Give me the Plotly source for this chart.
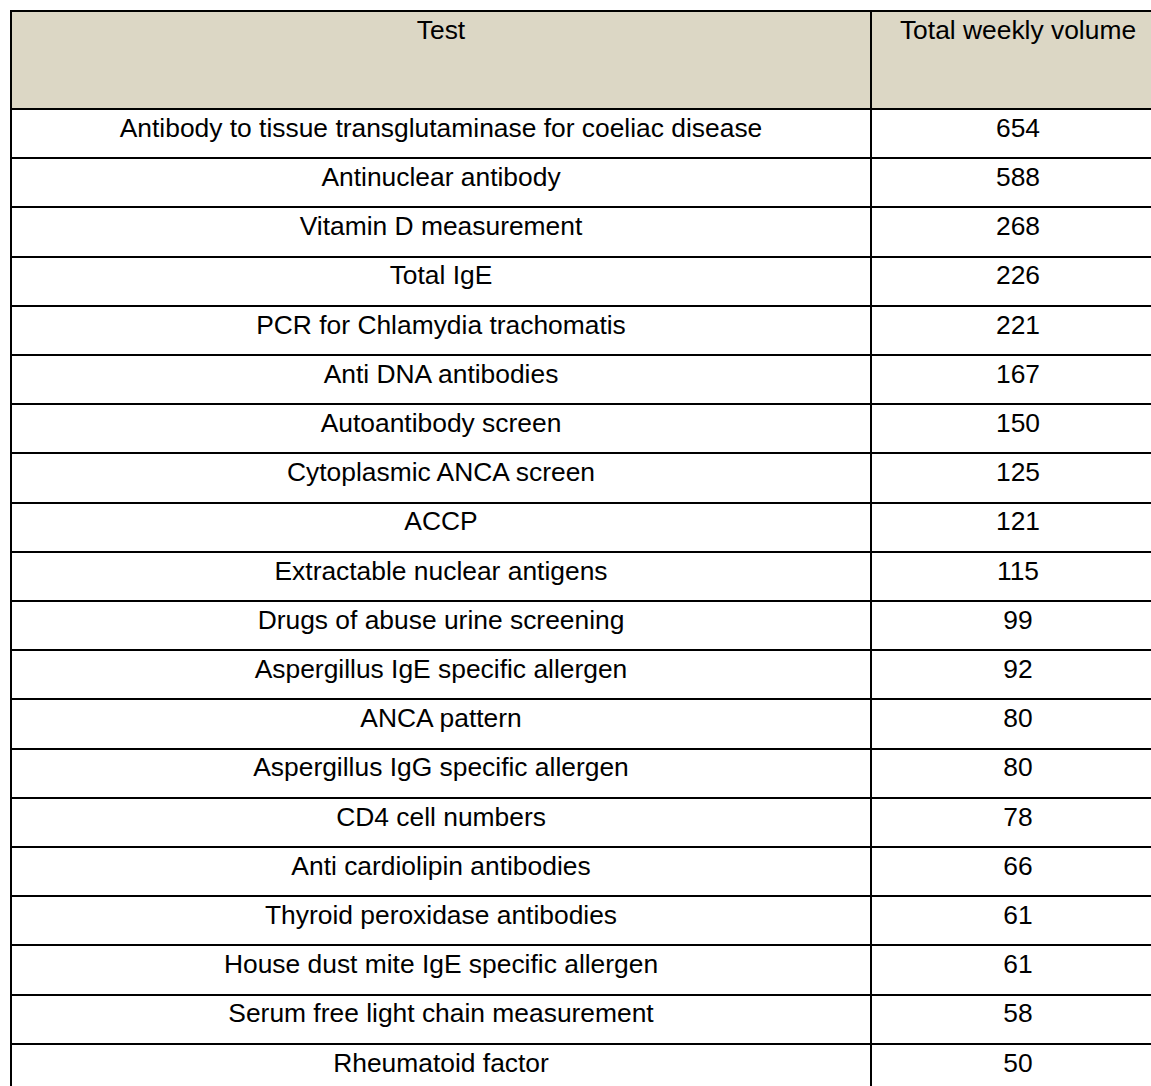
import plotly.graph_objects as go

tests = [
    "Antibody to tissue transglutaminase for coeliac disease",
    "Antinuclear antibody",
    "Vitamin D measurement",
    "Total IgE",
    "PCR for Chlamydia trachomatis",
    "Anti DNA antibodies",
    "Autoantibody screen",
    "Cytoplasmic ANCA screen",
    "ACCP",
    "Extractable nuclear antigens",
    "Drugs of abuse urine screening",
    "Aspergillus IgE specific allergen",
    "ANCA pattern",
    "Aspergillus IgG specific allergen",
    "CD4 cell numbers",
    "Anti cardiolipin antibodies",
    "Thyroid peroxidase antibodies",
    "House dust mite IgE specific allergen",
    "Serum free light chain measurement",
    "Rheumatoid factor",
]
volumes = [654, 588, 268, 226, 221, 167, 150, 125, 121, 115, 99, 92, 80, 80, 78, 66, 61, 61, 58, 50]
headers = ["Test", "Total weekly volume"]

font = dict(family="Liberation Sans", size=26.4, color="black")

fig = go.Figure(
    go.Table(
        columnwidth=[860, 294],
        header=dict(
            values=headers,
            fill_color="#DCD7C5",
            line=dict(color="black", width=2),
            align="center",
            font=font,
            height=98,
        ),
        cells=dict(
            values=[tests, volumes],
            fill_color="white",
            line=dict(color="black", width=2),
            align="center",
            font=font,
            height=49.2,
        ),
        domain=dict(x=[0, 1], y=[0, 1]),
    )
)
fig.update_layout(
    width=1165,
    height=1110,
    margin=dict(l=11, r=0, t=11, b=0),
    paper_bgcolor="white",
)
fig.write_html(
    "out.html",
    config={"displayModeBar": False},
    post_script="document.body.style.margin='0';document.body.style.overflow='hidden';",
)
